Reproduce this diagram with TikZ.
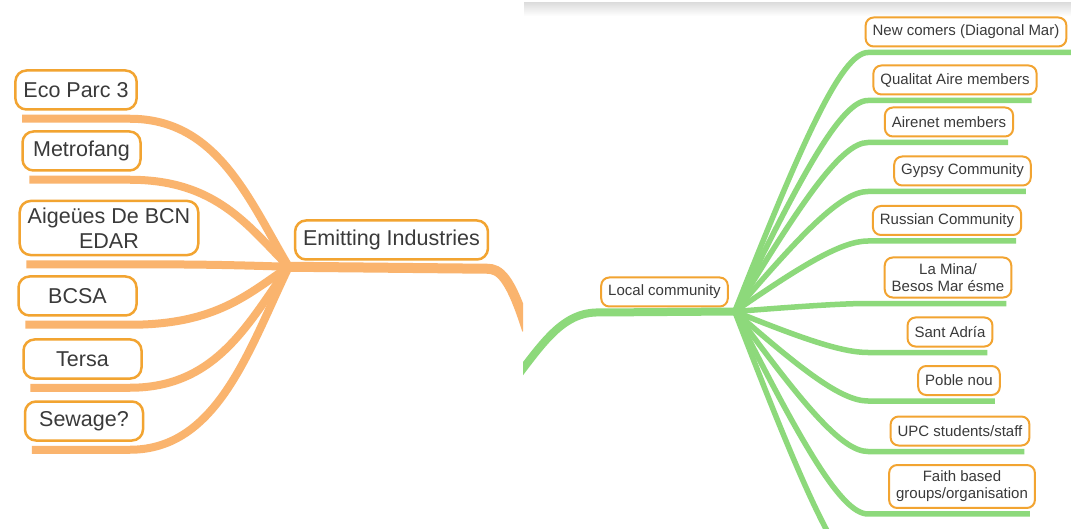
\documentclass[tikz,border=0pt]{standalone}
\usepackage{fontspec}
\setmainfont{Liberation Sans}
\usetikzlibrary{calc,positioning}
\definecolor{twigorange}{HTML}{FAB46E}
\definecolor{twiggreen}{HTML}{8DD97B}
\definecolor{boxgold}{HTML}{F2A431}
\definecolor{inkgrey}{HTML}{3A3A3A}

\tikzset{
  bigtopic/.style={draw=boxgold, line width=2.5pt, rounded corners=11pt, fill=white,
    text=inkgrey, font=\fontsize{21.5}{24.5}\selectfont, align=center,
    inner xsep=8pt, inner ysep=7pt, minimum height=39pt, minimum width=118pt},
  smalltopic/.style={draw=boxgold, line width=2pt, rounded corners=8pt, fill=white,
    text=inkgrey, font=\fontsize{15}{17}\selectfont, align=center,
    inner xsep=7pt, inner ysep=6pt, minimum height=29pt},
  orangelimb/.style={draw=twigorange, line width=8pt},
  greenlimb/.style={draw=twiggreen, line width=5.5pt},
}

% branch from the left hub out to a child underline
\newcommand{\orangesprig}[2]{%
  \draw[orangelimb] let \p1=(lhub), \p2=(#1) in
    (\p1) .. controls ({\x1+0.25*(\x2-\x1)},{\y1+0.45*(\y2-\y1)})
      and ({\x2-0.55*(\x2-\x1)},\y2) .. (\p2) -- (#2);}
% branch from the right hub out to a child underline
\newcommand{\greensprig}[2]{%
  \draw[greenlimb] let \p1=(rhub), \p2=(#1) in
    (\p1) .. controls ({\x1+0.5*(\x2-\x1)},{\y1+0.65*(\y2-\y1)})
      and ({\x2-0.2*(\x2-\x1)},\y2) .. (\p2) -- (#2);}

\begin{document}
\begin{tikzpicture}[x=1pt, y=-1pt]
  \useasboundingbox (0,0) rectangle (1071,529);
  \fill[white] (0,0) rectangle (1071,529);

  % ---- emitting industries ----
  \begin{scope}
    \clip (0,0) rectangle (523,529);
    \node[bigtopic] (ep) at (76,90) {Eco Parc 3};
    \node[bigtopic] (mf) at (81.5,151) {Metrofang};
    \node[bigtopic] (ag) at (109,228) {Aigeües De BCN\\EDAR};
    \node[bigtopic] (bc) at (77.5,296) {BCSA};
    \node[bigtopic] (te) at (82.5,359) {Tersa};
    \node[bigtopic] (sw) at (84,421) {Sewage?};
    \node[bigtopic, minimum width=0pt] (ei) at (391.5,240) {Emitting Industries};

    \coordinate (lhub) at ($(ei.south west)+(-5,6)$);
    \coordinate (lbend) at (130,0);
    \coordinate (lout) at (527,330);

    \draw[orangelimb, line width=10pt] (lhub) -- ($(ei.south east)+(-2,8)$)
      .. controls ($(ei.south east)+(10,8)$) and (510,276) .. (lout);
    \foreach \t in {ep,mf,ag,bc,te,sw}
      \orangesprig{$(\t.south -| lbend)+(0,8)$}{$(\t.south west)+(8,8)$};
  \end{scope}

  % ---- local community ----
  \begin{scope}
    \clip (523,0) rectangle (1071,529);
    \shade[top color=black!13, bottom color=white] (524,3) rectangle (1071,16);

    \node[smalltopic] (lc) at (664.5,292) {Local community};
    \node[smalltopic] (nc) at (966,32) {New comers (Diagonal Mar)};
    \node[smalltopic] (qa) at (955,80) {Qualitat Aire members};
    \node[smalltopic] (an) at (949,122) {Airenet members};
    \node[smalltopic] (gc) at (962.5,171) {Gypsy Community};
    \node[smalltopic] (rc) at (947,220.5) {Russian Community};
    \node[smalltopic] (lm) at (948,277.5) {La Mina/\\Besos Mar ésme};
    \node[smalltopic] (sa) at (950,332) {Sant Adría};
    \node[smalltopic] (pn) at (959,380.5) {Poble nou};
    \node[smalltopic] (upc) at (960,431) {UPC students/staff};
    \node[smalltopic] (fb) at (962,486.5) {Faith based\\groups/organisation};

    \coordinate (rhub) at ($(lc.south east)+(6,4)$);
    \coordinate (rbend) at (868,0);
    \coordinate (rin) at (505,392);
    \coordinate (rnext) at (868,578);

    \draw[greenlimb, line width=8pt] (rin) .. controls (540,348) and (560,311)
      .. ($(lc.south west)+(0,5)$) -- (rhub);
    \greensprig{$(nc.south -| rbend)+(0,5)$}{$(nc.south east)+(10,5)$};
    \foreach \t in {qa,an,gc,rc,lm,sa,pn,upc,fb}
      \greensprig{$(\t.south -| rbend)+(0,5)$}{$(\t.south east)+(-6,5)$};
    \greensprig{rnext}{$(rnext)+(120,0)$};
  \end{scope}
\end{tikzpicture}
\end{document}
